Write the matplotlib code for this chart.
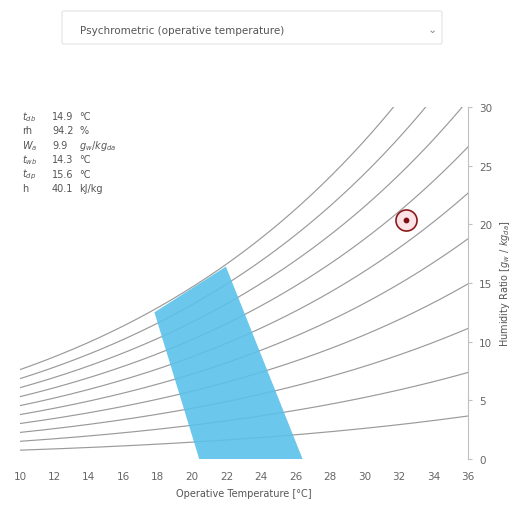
import numpy as np
import matplotlib.pyplot as plt
from matplotlib.patches import FancyBboxPatch

# relative humidity curves drawn on the chart [%]
rh_levels = [10, 20, 30, 40, 50, 60, 70, 80, 90, 100]
t_min, t_max = 10, 36
w_min, w_max = 0, 30
x_ticks = [10, 12, 14, 16, 18, 20, 22, 24, 26, 28, 30, 32, 34, 36]
y_ticks = [0, 5, 10, 15, 20, 25, 30]

# comfort zone corners (operative temperature, humidity ratio g/kg)
zone_t = [17.8, 21.95, 26.4, 20.4]
zone_w = [12.5, 16.4, 0.0, 0.0]

# current point
point_t = 32.4
point_w = 20.4

# hover readout
info_names = [r"$t_{db}$", "rh", r"$W_a$", r"$t_{wb}$", r"$t_{dp}$", "h"]
info_values = ["14.9", "94.2", "9.9", "14.3", "15.6", "40.1"]
info_units = ["°C", "%", r"$g_w/kg_{da}$", "°C", "°C", "kJ/kg"]

P_ATM = 101325.0


def sat_pressure(t):
    # Magnus type fit, Pa
    return 610.94 * np.exp(17.625 * t / (t + 243.04))


def humidity_ratio(t, rh):
    pw = rh / 100.0 * sat_pressure(t)
    return 621.945 * pw / (P_ATM - pw)


fig = plt.figure(figsize=(5.14, 5.06), dpi=100)
ax = fig.add_axes([20 / 514, 46 / 506, 448 / 514, 352 / 506])

temps = np.linspace(t_min, t_max, 300)
for rh in rh_levels:
    ax.plot(temps, humidity_ratio(temps, rh), color="#9a9a9a", lw=0.85, zorder=1)

ax.fill(zone_t, zone_w, color="#5bc1ea", alpha=0.9, lw=0, zorder=2)

ax.scatter([point_t], [point_w], s=230, facecolor="#fde3e6", edgecolor="#8b1a1a",
           lw=1.2, zorder=4)
ax.scatter([point_t], [point_w], s=10, color="#7a0f14", zorder=5)

ax.set_xlim(t_min, t_max)
ax.set_ylim(w_min, w_max)
ax.set_xticks(x_ticks)
ax.set_yticks(y_ticks)
ax.yaxis.tick_right()
ax.yaxis.set_label_position("right")
for s in ["top", "left", "bottom"]:
    ax.spines[s].set_visible(False)
ax.spines["right"].set_color("#c0c0c0")
ax.spines["right"].set_linewidth(0.8)
ax.tick_params(axis="x", length=0, pad=9, labelsize=7.5, colors="#666666")
ax.tick_params(axis="y", length=3, color="#c0c0c0", pad=5, labelsize=7.5,
               labelcolor="#666666")
ax.set_xlabel("Operative Temperature [°C]", fontsize=7, color="#555555", labelpad=5)
ax.set_ylabel(r"Humidity Ratio [$g_w$ / $kg_{da}$]", fontsize=7, color="#555555",
              labelpad=4)

# readout text block
y0 = 117
for i in range(len(info_names)):
    yy = 1 - (y0 + i * 14.4) / 506
    fig.text(22 / 514, yy, info_names[i], fontsize=7, color="#555555", va="center")
    fig.text(52 / 514, yy, info_values[i], fontsize=7, color="#555555", va="center")
    fig.text(79 / 514, yy, info_units[i], fontsize=7, color="#555555", va="center")

# dropdown selector
box = FancyBboxPatch((62 / 514, 1 - 45 / 506), 380 / 514, 33 / 506,
                     boxstyle="round,pad=0,rounding_size=0.004",
                     transform=fig.transFigure, facecolor="white",
                     edgecolor="#e4e4e4", lw=0.8)
fig.patches.append(box)
fig.text(80 / 514, 1 - 31 / 506, "Psychrometric (operative temperature)",
         fontsize=7.5, color="#555555", va="center")
fig.text(432 / 514, 1 - 30 / 506, "⌄", fontsize=8, color="#888888",
         va="center", ha="center")

fig.savefig("out.png", dpi=100)
